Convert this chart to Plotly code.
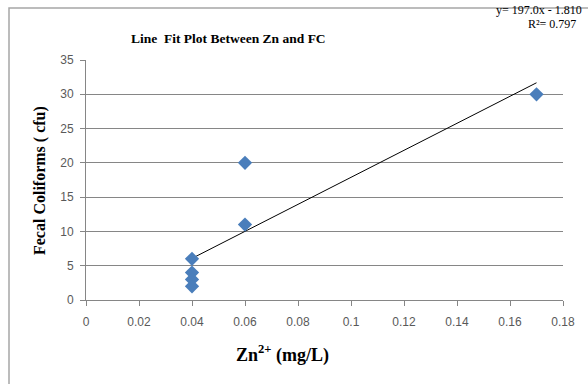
import plotly.graph_objects as go

zn = [0.04, 0.04, 0.04, 0.04, 0.06, 0.06, 0.17]
fc = [6, 4, 3, 2, 20, 11, 30]
slope = 197.0
intercept = -1.810
r2 = 0.797
x_ticks = [0, 0.02, 0.04, 0.06, 0.08, 0.1, 0.12, 0.14, 0.16, 0.18]
x_tick_text = ["0", "0.02", "0.04", "0.06", "0.08", "0.1", "0.12", "0.14", "0.16", "0.18"]
y_ticks = [0, 5, 10, 15, 20, 25, 30, 35]

fit_x = [min(zn), max(zn)]
fit_y = [slope * v + intercept for v in fit_x]

W, H = 588, 384
L, R, T, B = 86, 25, 60, 84
pw, ph = W - L - R, H - T - B

def px(xp):
    return (xp - L) / pw

def py(yp):
    return (H - B - yp) / ph

fig = go.Figure()
fig.add_trace(go.Scatter(x=fit_x, y=fit_y, mode="lines",
                         line=dict(color="#000000", width=1), showlegend=False))
fig.add_trace(go.Scatter(x=zn, y=fc, mode="markers",
                         marker=dict(symbol="diamond", size=11, color="#4A7EBB"),
                         showlegend=False))

tickfont = dict(family="Liberation Sans, Arial", size=12, color="#595959")
serif = "Liberation Serif, Times New Roman"
fig.update_layout(
    width=W, height=H,
    margin=dict(l=L, r=R, t=T, b=B),
    paper_bgcolor="white", plot_bgcolor="white",
    xaxis=dict(range=[0, 0.18], tickvals=x_ticks, ticktext=x_tick_text,
               showgrid=False, zeroline=False, showline=True, linecolor="#868686",
               linewidth=1, ticks="outside", ticklen=5, tickcolor="#868686",
               tickfont=tickfont, ticklabelstandoff=6),
    yaxis=dict(range=[0, 35], tickvals=y_ticks, showgrid=True, gridcolor="#868686",
               gridwidth=1, zeroline=False, showline=True, linecolor="#868686",
               linewidth=1, ticks="outside", ticklen=5, tickcolor="#868686",
               tickfont=tickfont, ticklabelstandoff=4),
    shapes=[dict(type="rect", xref="paper", yref="paper",
                 x0=px(9), x1=px(640), y0=py(440), y1=py(8),
                 line=dict(color="#A6A6A6", width=1.5), fillcolor="rgba(0,0,0,0)",
                 layer="below")],
    annotations=[
        dict(text="<b>Line  Fit Plot Between Zn and FC</b>", xref="paper", yref="paper",
             x=px(228), y=py(38), showarrow=False, xanchor="center", yanchor="middle",
             font=dict(family=serif, size=13.5, color="#000000")),
        dict(text=f"y= {slope:.1f}x - {abs(intercept):.3f}", xref="paper", yref="paper",
             x=px(584), y=py(10), showarrow=False, xanchor="right", yanchor="middle",
             font=dict(family=serif, size=12, color="#000000")),
        dict(text=f"R²= {r2:.3f}", xref="paper", yref="paper",
             x=px(578), y=py(24), showarrow=False, xanchor="right", yanchor="middle",
             font=dict(family=serif, size=12, color="#000000")),
        dict(text="<b>Fecal Coliforms ( cfu)</b>", xref="paper", yref="paper",
             x=px(40), y=py(181), showarrow=False, textangle=-90,
             xanchor="center", yanchor="middle",
             font=dict(family=serif, size=16, color="#000000")),
        dict(text="<b>Zn<sup style='font-size:14px'>2+</sup> (mg/L)</b>", xref="paper", yref="paper",
             x=px(282), y=py(354), showarrow=False, xanchor="center", yanchor="middle",
             font=dict(family=serif, size=18, color="#000000")),
    ],
)

fig.write_html("out.html", config={"displayModeBar": False},
               post_script="document.body.style.margin='0';document.body.style.overflow='hidden';")
